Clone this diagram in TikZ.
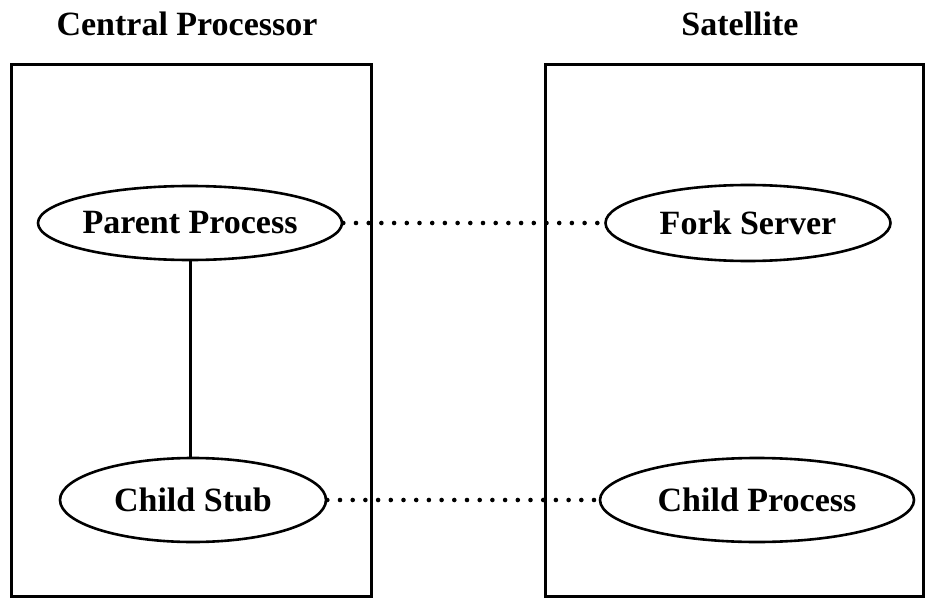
\documentclass[tikz,border=0pt]{standalone}
\usepackage{fontspec}
\setmainfont{Liberation Serif}
\usetikzlibrary{shapes.geometric}
\begin{document}
\begin{tikzpicture}[x=1pt,y=-1pt,
  frame/.style={draw, line width=3pt, inner sep=0pt, anchor=north west},
  proc/.style={ellipse, draw, line width=2.6pt, inner sep=0pt, font=\fontsize{34}{40}\selectfont\bfseries},
  title/.style={font=\fontsize{34}{40}\selectfont\bfseries, inner sep=0pt},
  dots/.style={line width=4.6pt, line cap=round, dash pattern=on 0pt off 12.7pt},
  link/.style={line width=3pt}]
\useasboundingbox (0,0) rectangle (932,599);
\node[frame, minimum width=360pt, minimum height=532pt] (cpbox) at (10,63) {};
\node[frame, minimum width=378pt, minimum height=532pt] (satbox) at (544,63) {};
\node[title] (cpt) at (187,24) {Central Processor};
\node[title] (satt) at (740,24) {Satellite};
\node[proc, minimum width=274pt, minimum height=74pt] (pp) at (190,223) {Parent Process};
\node[proc, minimum width=285pt, minimum height=76pt] (fs) at (748,223) {Fork Server};
\node[proc, minimum width=266pt, minimum height=84pt] (cs) at (193,500) {Child Stub};
\node[proc, minimum width=314pt, minimum height=84pt] (cpr) at (757,500) {Child Process};
\draw[link] (pp.south) -- (pp.south |- cs.north);
\draw[dots] (pp.east) -- (fs.west);
\draw[dots] (cs.east) -- (cpr.west);
\end{tikzpicture}
\end{document}
